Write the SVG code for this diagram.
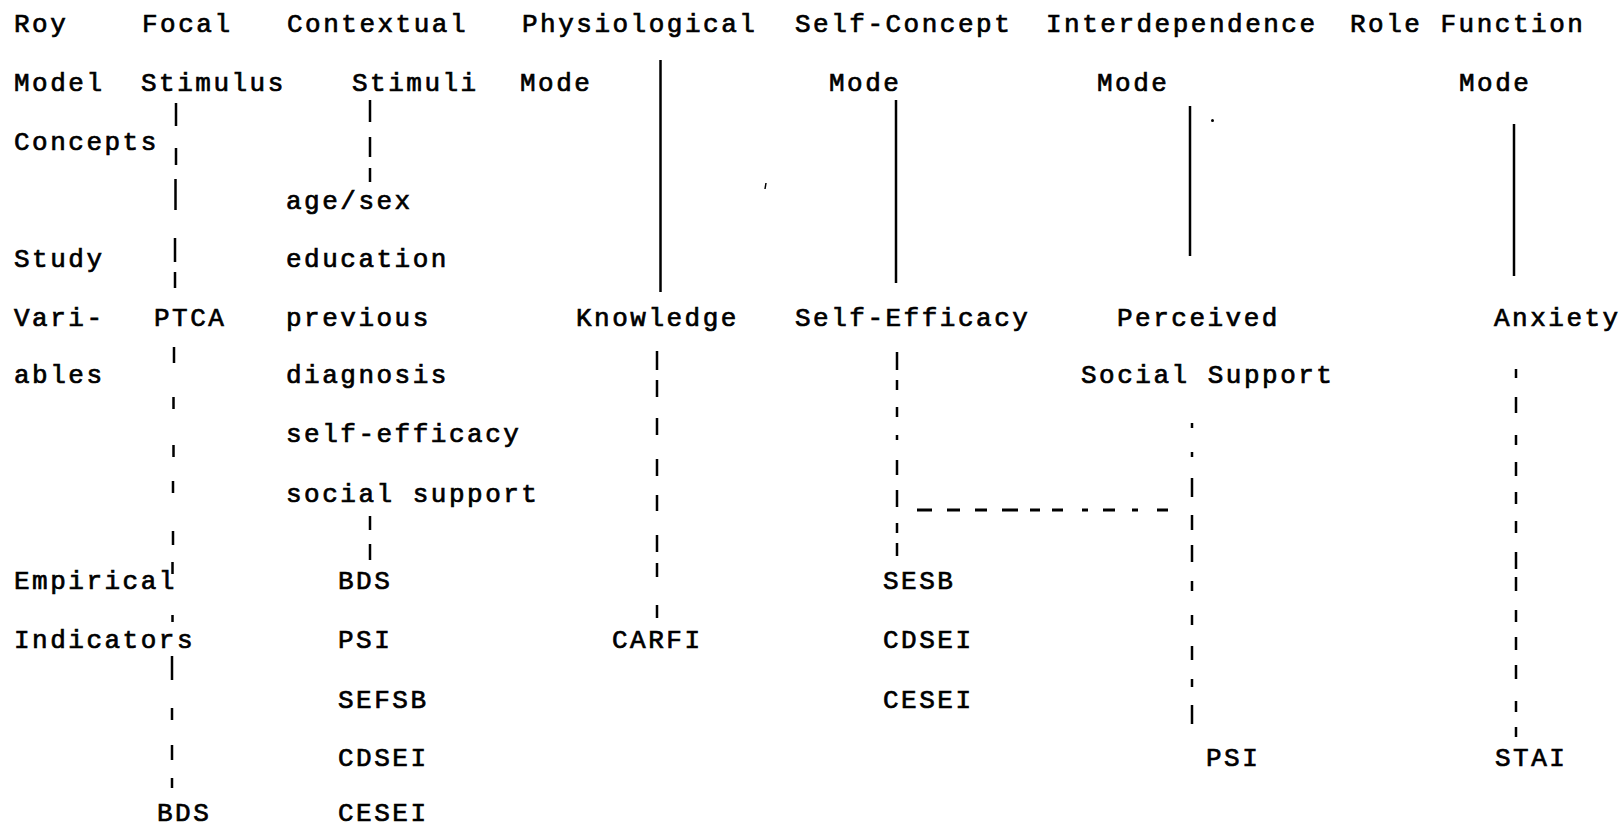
<svg xmlns="http://www.w3.org/2000/svg" width="1619" height="829" viewBox="0 0 1619 829">
<style>
.t{font-family:"Liberation Mono","Courier New",monospace;font-size:26px;letter-spacing:2.5px;fill:#000;stroke:#000;stroke-width:0.7px}
.solid{stroke:#000;stroke-width:2.5;fill:none}
.dash{stroke:#000;stroke-width:2.5;fill:none}
.hdash{stroke:#000;stroke-width:3;fill:none}
</style>
<rect width="1619" height="829" fill="#fff"/>
<g id="row-labels">
<text class="t" x="14" y="32">Roy</text>
<text class="t" x="14" y="91">Model</text>
<text class="t" x="14" y="149.5">Concepts</text>
<text class="t" x="14" y="267">Study</text>
<text class="t" x="14" y="326">Vari-</text>
<text class="t" x="14" y="383">ables</text>
<text class="t" x="14" y="589">Empirical</text>
<text class="t" x="14" y="648">Indicators</text>
</g>
<g id="focal-stimulus">
<text class="t" x="142" y="32">Focal</text>
<text class="t" x="141" y="91">Stimulus</text>
<text class="t" x="154" y="326">PTCA</text>
<text class="t" x="157" y="821">BDS</text>
</g>
<g id="contextual-stimuli">
<text class="t" x="287" y="32">Contextual</text>
<text class="t" x="352" y="91">Stimuli</text>
<text class="t" x="286" y="208.5">age/sex</text>
<text class="t" x="286" y="267">education</text>
<text class="t" x="286" y="326">previous</text>
<text class="t" x="286" y="383">diagnosis</text>
<text class="t" x="286" y="442">self-efficacy</text>
<text class="t" x="286" y="502">social support</text>
<text class="t" x="338" y="589">BDS</text>
<text class="t" x="338" y="648">PSI</text>
<text class="t" x="338" y="707.5">SEFSB</text>
<text class="t" x="338" y="766">CDSEI</text>
<text class="t" x="338" y="821">CESEI</text>
</g>
<g id="physiological-mode">
<text class="t" x="522" y="32">Physiological</text>
<text class="t" x="520" y="91">Mode</text>
<text class="t" x="576" y="326">Knowledge</text>
<text class="t" x="612" y="648">CARFI</text>
</g>
<g id="self-concept-mode">
<text class="t" x="795" y="32">Self-Concept</text>
<text class="t" x="829" y="91">Mode</text>
<text class="t" x="795" y="326">Self-Efficacy</text>
<text class="t" x="883" y="589">SESB</text>
<text class="t" x="883" y="648">CDSEI</text>
<text class="t" x="883" y="707.5">CESEI</text>
</g>
<g id="interdependence-mode">
<text class="t" x="1046" y="32">Interdependence</text>
<text class="t" x="1097" y="91">Mode</text>
<text class="t" x="1117" y="326">Perceived</text>
<text class="t" x="1081" y="383">Social Support</text>
<text class="t" x="1206" y="766">PSI</text>
</g>
<g id="role-function-mode">
<text class="t" x="1350" y="32">Role Function</text>
<text class="t" x="1459" y="91">Mode</text>
<text class="t" x="1494" y="326">Anxiety</text>
<text class="t" x="1495" y="766">STAI</text>
</g>
<g id="connectors">
<path class="dash" d="M176 103V126M176 148V165M175.5 179V210M175 238V262M175 272V288M174 347V363M173.5 397V409M173.5 445V457M173 481V493M173 531V545M172.5 562V574M172.5 615V622M172 656V680M172 708V720M172 745V760M172 778V788"/>
<path class="dash" d="M370 100V122M370 137V157M370 168V182M370 516V530M370 544V560"/>
<path class="solid" d="M660.5 60V292"/>
<path class="dash" d="M657 351V370M657 380V397M657 418V435M657 459V476M657 495V511M657 535V552M657 563V577M657 605V618"/>
<path class="solid" d="M896 100V283"/>
<path class="dash" d="M897 352V370M897 380V390M897 407V417M897 435V440M897 460V475M897 490V507M897 523V533M897 543V556"/>
<path class="hdash" d="M917 510H932M947 510H960M975 510H987M1002 510H1018M1030 510H1040M1052 510H1063M1082 510H1088M1103 510H1115M1132 510H1138M1157 510H1168"/>
<path class="solid" d="M1190 106V256"/>
<path class="dash" d="M1192 423V428M1192 452V457M1192 478V497M1192 515V530M1192 545V562M1192 581V591M1192 615V625M1192 646V660M1192 679V687M1192 705V724"/>
<path class="solid" d="M1514 124V276"/>
<path class="dash" d="M1516 369V378M1516 397V413M1516 435V445M1516 462V476M1516 492V504M1516 521V533M1516 552V569M1516 577V591M1516 610V622M1516 637V650M1516 665V679M1516 701V712M1516 727V737"/>
</g>
<g id="marks">
<circle cx="1212.5" cy="120.5" r="1.5" fill="#000"/>
<path d="M766 183L765 189" stroke="#000" stroke-width="1.5"/>
</g>
</svg>
